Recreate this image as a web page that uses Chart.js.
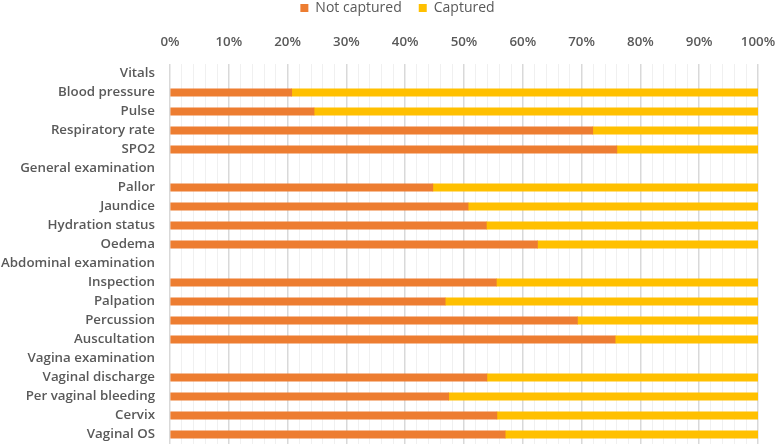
<!DOCTYPE html>
<html>
<head>
<meta charset="utf-8">
<script src="https://cdn.jsdelivr.net/npm/chart.js@4/dist/chart.umd.min.js"></script>
<style>
  html, body { margin: 0; padding: 0; background: #fff; }
  #wrap { width: 777px; height: 446px; }
</style>
</head>
<body>
<div id="wrap"><canvas id="chart"></canvas></div>
<script>
const CATEGORIES = [
  'Vitals', 'Blood pressure', 'Pulse', 'Respiratory rate', 'SPO2',
  'General examination', 'Pallor', 'Jaundice', 'Hydration status', 'Oedema',
  'Abdominal examination', 'Inspection', 'Palpation', 'Percussion', 'Auscultation',
  'Vagina examination', 'Vaginal discharge', 'Per vaginal bleeding', 'Cervix', 'Vaginal OS',
];
// header rows (Vitals, General examination...) carry no bars
const NOT_CAPTURED = [
  null, 20.7, 24.5, 71.9, 76.0,
  null, 44.7, 50.7, 53.8, 62.5,
  null, 55.5, 46.8, 69.3, 75.7,
  null, 53.9, 47.4, 55.6, 57.0,
];
const CAPTURED = [
  null, 79.3, 75.5, 28.1, 24.0,
  null, 55.3, 49.3, 46.2, 37.5,
  null, 44.5, 53.2, 30.7, 24.3,
  null, 46.1, 52.6, 44.4, 43.0,
];

const TEXT = '#595959';
const FONT = { family: "'Open Sans', sans-serif", size: 13.3, weight: '600' };

// legend padding also sets the gap between items; trim the height it adds
// below and nudge the whole legend a little right of centre
const legendTweak = {
  id: 'legendTweak',
  beforeInit(chart) {
    const fit = chart.legend.fit;
    chart.legend.fit = function () {
      fit.call(this);
      this.height -= 5;
    };
  },
  afterLayout(chart) {
    chart.legend.left += 9;
    chart.legend.right += 9;
  },
};

new Chart(document.getElementById('chart'), {
  type: 'bar',
  data: {
    labels: CATEGORIES,
    datasets: [
      { label: 'Not captured', data: NOT_CAPTURED, backgroundColor: '#ed7d31', barThickness: 7.5 },
      { label: 'Captured', data: CAPTURED, backgroundColor: '#ffc000', barThickness: 7.5 },
    ],
  },
  plugins: [legendTweak],
  options: {
    indexAxis: 'y',
    responsive: true,
    maintainAspectRatio: false,
    animation: false,
    layout: { padding: { top: -16, left: 0, right: 0, bottom: 2 } },
    plugins: {
      legend: {
        position: 'top',
        labels: {
          color: TEXT,
          font: { family: "'Open Sans', sans-serif", size: 14 },
          boxWidth: 8,
          boxHeight: 8,
          padding: 17,
        },
      },
      tooltip: { enabled: false },
    },
    scales: {
      x: {
        position: 'top',
        stacked: true,
        min: 0,
        max: 100,
        border: { display: false },
        afterFit: (s) => { s.paddingLeft = 0; s.paddingRight = 19; },
        grid: {
          drawTicks: false,
          color: (ctx) => (ctx.tick && ctx.tick.value % 10 === 0 ? '#d9d9d9' : '#f0f0f0'),
          lineWidth: (ctx) => (ctx.tick && ctx.tick.value % 10 === 0 ? 1.5 : 1),
        },
        ticks: {
          stepSize: 2,
          autoSkip: false,
          maxRotation: 0,
          padding: 14,
          color: TEXT,
          font: FONT,
          callback: (v) => (v % 10 === 0 ? v + '%' : ''),
        },
      },
      y: {
        stacked: true,
        border: { display: false },
        grid: { display: false, drawTicks: false },
        afterFit: (s) => { s.width = 170; s.paddingTop = 0; s.paddingBottom = 0; },
        ticks: {
          autoSkip: false,
          padding: 15,
          color: TEXT,
          font: FONT,
        },
      },
    },
  },
});
</script>
</body>
</html>
